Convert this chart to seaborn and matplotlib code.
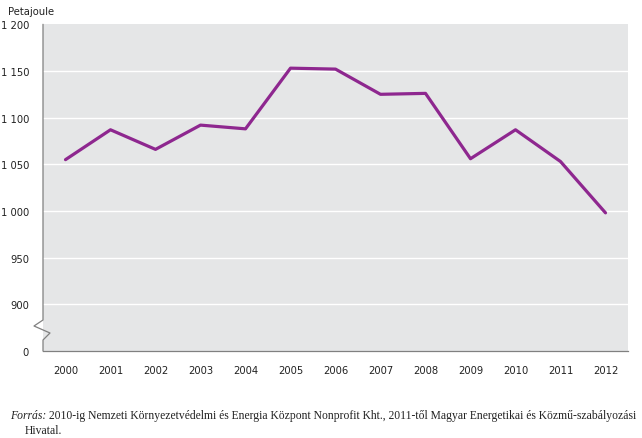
import matplotlib
matplotlib.use("Agg")
import matplotlib.pyplot as plt
import seaborn as sns
import pandas as pd
from matplotlib.lines import Line2D

years = ["2000", "2001", "2002", "2003", "2004", "2005", "2006",
         "2007", "2008", "2009", "2010", "2011", "2012"]
values = [1055, 1087, 1066, 1092, 1088, 1153, 1152, 1125, 1126, 1056, 1087, 1053, 998]
ytick_values = [850, 900, 950, 1000, 1050, 1100, 1150, 1200]
ytick_labels = ["0", "900", "950", "1 000", "1 050", "1 100", "1 150", "1 200"]
unit_label = "Petajoule"
source_italic = "Forrás:"
source_rest = " 2010-ig Nemzeti Környezetvédelmi és Energia Központ Nonprofit Kht., 2011-től Magyar Energetikai és Közmű-szabályozási"
source_line2 = "Hivatal."

df = pd.DataFrame({"year": years, "value": values})

sns.set_theme(style="white")
plt.rcParams["font.family"] = ["DejaVu Sans"]
plt.rcParams["font.stretch"] = "condensed"

fig = plt.figure(figsize=(6.42, 4.39), dpi=100)
ax = fig.add_axes([43 / 642, 1 - 352 / 439, 585 / 642, 326.7 / 439])
ax.set_facecolor("#e5e6e7")

sns.lineplot(data=df, x="year", y="value", ax=ax, sort=False,
             color="#8e278f", linewidth=2.3, zorder=3)

ax.set_xlim(-0.5, len(years) - 0.5)
ax.set_ylim(850, 1200)
ax.set_yticks(ytick_values)
ax.set_yticklabels(ytick_labels)
ax.set_xlabel("")
ax.set_ylabel("")

for v in ytick_values[1:-1]:
    ax.axhline(v, color="white", linewidth=1.0, zorder=1)

ax.set_xticks(range(len(years)))
ax.set_xticklabels(years)
ax.set_xticks([i - 0.5 for i in range(len(years) + 1)], minor=True)
ax.tick_params(axis="x", which="major", length=0, pad=10, labelsize=8, colors="#222222")
ax.tick_params(axis="x", which="minor", length=5, width=0.8, color="#808080", direction="out")
ax.tick_params(axis="y", which="major", length=0, pad=10, labelsize=8, colors="#222222")

for s in ["top", "right", "left"]:
    ax.spines[s].set_visible(False)
ax.spines["bottom"].set_color("#808080")
ax.spines["bottom"].set_linewidth(0.9)

# left axis with break zigzag (axes fraction coordinates)
px = 1 / 585
py = 1 / 326.7
xs = [0, 0, -9 * px, 7 * px, 0, 0]
ys = [1, (352 - 321) * py, (352 - 327) * py, (352 - 334) * py, (352 - 341) * py, 0]
ax.add_line(Line2D(xs, ys, transform=ax.transAxes, color="#808080",
                   linewidth=0.9, clip_on=False, zorder=4))

fig.text(8 / 642, 1 - 12 / 439, unit_label, fontsize=8, va="center", ha="left",
         color="#222222")

SERIF = ["Liberation Serif", "DejaVu Serif"]
t1 = fig.text(10 / 642, 1 - 419 / 439, source_italic, fontsize=8.4, style="italic",
              family=SERIF, stretch="normal", va="baseline", ha="left", color="#222222")
plt.annotate(source_rest, xy=(1, 0), xycoords=t1, va="bottom", ha="left",
             fontsize=8.4, family=SERIF, stretch="normal", color="#222222")
fig.text(25 / 642, 1 - 434 / 439, source_line2, fontsize=8.4, family=SERIF,
         stretch="normal", va="baseline", ha="left", color="#222222")

fig.savefig("out.png", dpi=100)
